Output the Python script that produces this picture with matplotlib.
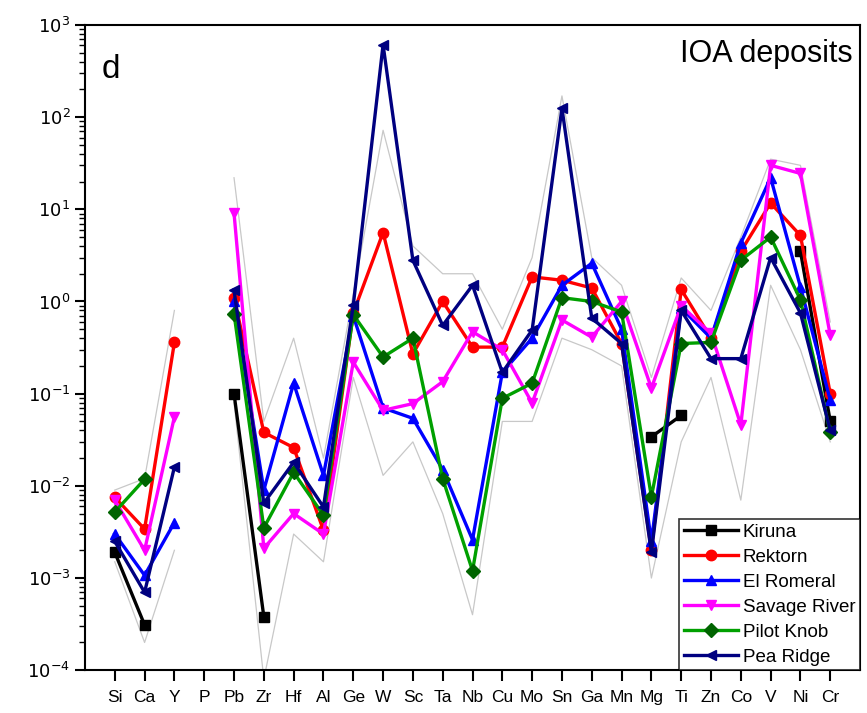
import numpy as np
import matplotlib
matplotlib.use("Agg")
import matplotlib.pyplot as plt
from matplotlib.ticker import FixedLocator, NullFormatter

plt.rcParams['font.family'] = ['Liberation Sans', 'DejaVu Sans']

nan = np.nan

elements = ['Si', 'Ca', 'Y', 'P', 'Pb', 'Zr', 'Hf', 'Al', 'Ge', 'W', 'Sc', 'Ta', 'Nb',
            'Cu', 'Mo', 'Sn', 'Ga', 'Mn', 'Mg', 'Ti', 'Zn', 'Co', 'V', 'Ni', 'Cr']

kiruna = [0.0019, 0.00031, nan, nan, 0.10, 0.00038, nan, nan, nan, nan, nan, nan, nan,
          nan, nan, nan, nan, nan, 0.034, 0.058, nan, nan, nan, 3.5, 0.05]
rektorn = [0.0075, 0.0034, 0.36, nan, 1.1, 0.038, 0.026, 0.0033, 0.75, 5.6, 0.27, 1.0, 0.32,
           0.32, 1.85, 1.7, 1.4, 0.35, 0.002, 1.35, 0.4, 3.5, 11.7, 5.2, 0.1]
el_romeral = [0.003, 0.00107, 0.004, nan, 1.0, 0.009, 0.13, 0.013, 0.7, 0.07, 0.054, 0.015, 0.0026,
              0.17, 0.4, 1.5, 2.6, 0.5, 0.0025, 0.85, 0.4, 4.3, 22, 1.44, 0.085]
savage_river = [0.007, 0.002, 0.056, nan, 9.1, 0.0021, 0.005, 0.003, 0.22, 0.066, 0.078, 0.135, 0.47,
                0.3, 0.079, 0.63, 0.41, 1.0, 0.115, 0.9, 0.45, 0.046, 30, 24.5, 0.43]
pilot_knob = [0.0052, 0.0118, nan, nan, 0.74, 0.0035, 0.014, 0.0048, 0.72, 0.25, 0.40, 0.012, 0.0012,
              0.089, 0.13, 1.1, 1.0, 0.77, 0.0076, 0.35, 0.36, 2.8, 5.0, 1.04, 0.038]
pea_ridge = [0.0025, 0.0007, 0.016, nan, 1.33, 0.0065, 0.018, 0.0059, 0.91, 610, 2.8, 0.55, 1.5,
             0.17, 0.49, 125, 0.66, 0.35, 0.0019, 0.8, 0.24, 0.24, 3.0, 0.75, 0.04]

# faint individual-sample envelopes in the background
sample_high = [0.009, 0.012, 0.8, nan, 22, 0.05, 0.4, 0.02, 1.2, 72, 4, 2, 2,
               0.5, 3, 170, 3, 1.5, 0.15, 1.8, 0.8, 5, 35, 30, 0.6]
sample_low = [0.0015, 0.0002, 0.002, nan, 0.08, 0.00008, 0.003, 0.0015, 0.15, 0.013, 0.03, 0.005, 0.0004,
              0.05, 0.05, 0.4, 0.3, 0.2, 0.001, 0.03, 0.15, 0.007, 1.5, 0.3, 0.03]

decades = [-4, -3, -2, -1, 0, 1, 2, 3]

series = [
    ('Kiruna', kiruna, 'black', 's', 'black'),
    ('Rektorn', rektorn, 'red', 'o', 'red'),
    ('El Romeral', el_romeral, '#0000ff', '^', '#0000ff'),
    ('Savage River', savage_river, '#ff00ff', 'v', '#ff00ff'),
    ('Pilot Knob', pilot_knob, '#00a000', 'D', '#006400'),
    ('Pea Ridge', pea_ridge, '#000080', '<', '#000080'),
]

x = np.arange(1, len(elements) + 1)

fig = plt.figure(figsize=(8.67, 7.13), dpi=100)
ax = fig.add_axes([0.098, 0.060, 0.894, 0.905])

for env in (sample_high, sample_low):
    ax.plot(x, env, color='#c8c8c8', lw=0.9, zorder=1)

for name, vals, col, mk, mcol in series:
    ax.plot(x, vals, color=col, lw=2.4, marker=mk, markersize=7.5,
            markerfacecolor=mcol, markeredgecolor=mcol, label=name, zorder=3)

ax.set_yscale('log')
ax.set_ylim(1e-4, 1e3)
ax.set_xlim(0, 26)
ax.set_xticks(x)
ax.set_xticklabels(elements, fontsize=12.5)

major = [10.0 ** d for d in decades]
minor = [m * 10.0 ** d for d in decades[:-1] for m in range(2, 10)]
ax.yaxis.set_major_locator(FixedLocator(major))
ax.set_yticklabels(['$10^{%d}$' % d for d in decades])
ax.yaxis.set_minor_locator(FixedLocator(minor))
ax.yaxis.set_minor_formatter(NullFormatter())
ax.tick_params(axis='y', which='major', direction='out', length=7, width=1.5, labelsize=13)
ax.tick_params(axis='y', which='minor', direction='out', length=4, width=1.0)
ax.tick_params(axis='x', which='major', direction='out', length=8, width=1.5, pad=6)
ax.tick_params(axis='x', which='minor', bottom=False)
for sp in ax.spines.values():
    sp.set_linewidth(1.5)

ax.text(0.022, 0.955, 'd', transform=ax.transAxes, fontsize=24, va='top', ha='left')
ax.text(0.99, 0.978, 'IOA deposits', transform=ax.transAxes, fontsize=22, va='top', ha='right')

leg = ax.legend(loc='lower right', fontsize=13.5, frameon=True, fancybox=False,
                edgecolor='black', handlelength=2.9, borderpad=0.25, labelspacing=0.42,
                handletextpad=0.25, borderaxespad=0.0)
leg.get_frame().set_linewidth(1.2)

fig.savefig('out.png', dpi=100)
